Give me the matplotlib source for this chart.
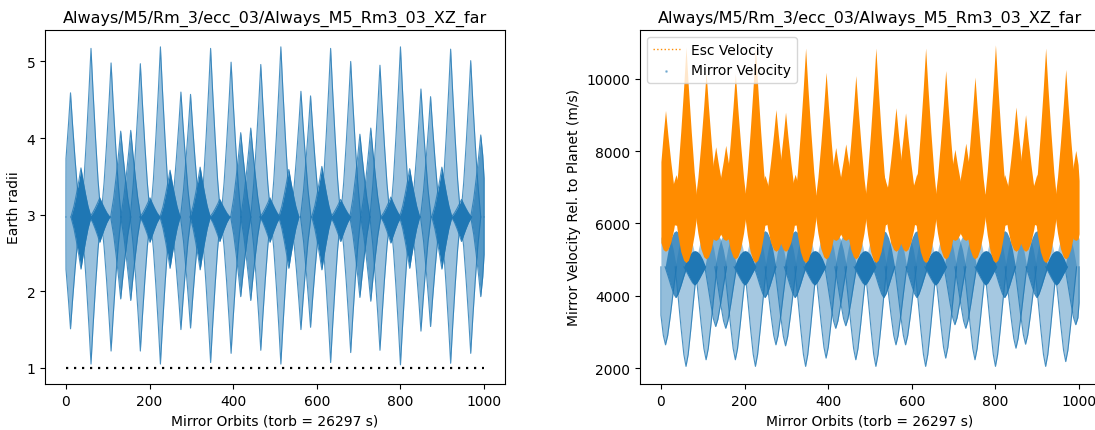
import numpy as np
import matplotlib
matplotlib.use("Agg")
import matplotlib.pyplot as plt

title = "Always/M5/Rm_3/ecc_03/Always_M5_Rm3_03_XZ_far"

# envelope lobes: orbit number of each lobe centre
lobe_x = [11, 36, 60, 81, 108, 131, 155, 178, 201, 226, 249, 275, 298, 321,
          346, 368, 395, 418, 442, 466, 488, 514, 533, 562, 585, 612, 633, 657,
          681, 703, 729, 751, 777, 800, 822, 849, 872, 899, 920, 946, 968, 992]

# left panel: radius envelope (Earth radii)
r_top = [4.59, 3.61, 5.17, 3.22, 4.98, 4.09, 4.10, 4.97, 3.22, 5.19, 3.58, 4.60,
         4.57, 3.62, 5.17, 3.20, 4.99, 4.07, 4.13, 4.96, 3.22, 5.19, 3.59, 4.61,
         4.55, 3.63, 5.17, 3.20, 5.00, 4.05, 4.13, 4.95, 3.23, 5.19, 3.60, 4.64,
         4.54, 3.62, 5.16, 3.20, 5.01, 4.04]
r_bot = [1.51, 2.29, 1.05, 2.64, 1.22, 1.90, 1.88, 1.22, 2.64, 1.05, 2.30, 1.50,
         1.52, 2.28, 1.07, 2.65, 1.19, 1.93, 1.88, 1.23, 2.64, 1.05, 2.30, 1.50,
         1.53, 2.28, 1.07, 2.65, 1.20, 1.92, 1.87, 1.23, 2.63, 1.04, 2.30, 1.48,
         1.54, 2.29, 1.06, 2.65, 1.19, 1.93]
r_mid = 2.97
earth_x = [0, 1000]
earth_r = [1, 1]

# right panel: escape velocity envelope (m/s)
esc_top = [9126, 7350, 10880, 6850, 10180, 8120, 8160, 10140, 6850, 10880, 7330,
           9150, 9080, 7360, 10850, 6840, 10180, 8100, 8200, 10090, 6850, 10850,
           7340, 9200, 9060, 7380, 10850, 6840, 10230, 8050, 8220, 10050, 6860,
           10940, 7350, 9220, 9010, 7360, 10850, 6840, 10260, 8020]
esc_bot = [5230, 5950, 4920, 6250, 5020, 5530, 5530, 5020, 6250, 4920, 5950,
           5230, 5230, 5950, 4920, 6250, 5020, 5530, 5530, 5020, 6250, 4920,
           5950, 5230, 5230, 5950, 4920, 6250, 5020, 5530, 5530, 5020, 6250,
           4920, 5950, 5230, 5230, 5950, 4920, 6250, 5020, 5530]
esc_mid = 6450

# mirror velocity envelope (m/s), upper part hidden under the orange band
vel_top = [5800, 5800, 5800, 5250, 5800, 5750, 5750, 5800, 5250, 5800, 5800,
           5800, 5800, 5800, 5800, 5250, 5800, 5750, 5750, 5800, 5250, 5800,
           5800, 5800, 5800, 5800, 5800, 5250, 5800, 5750, 5750, 5800, 5250,
           5800, 5800, 5800, 5800, 5800, 5800, 5250, 5800, 5750]
vel_bot = [2643, 3950, 2047, 4300, 2230, 3150, 3100, 2230, 4300, 2047, 3950,
           2643, 2615, 3950, 2047, 4300, 2276, 3100, 3170, 2230, 4300, 2047,
           3950, 2643, 2643, 3950, 2047, 4300, 2276, 3200, 3100, 2230, 4300,
           2047, 3950, 2550, 2660, 3950, 2047, 4300, 2180, 3200]
vel_mid = 4800

# lobe outlines (relative offset from centre -> relative height)
prof_u = np.array([-1, -0.7, -0.45, -0.2, 0, 0.2, 0.45, 0.7, 1])
sharp = np.array([0, 0.22, 0.47, 0.75, 1, 0.75, 0.47, 0.22, 0])
soft = np.array([0, 0.33, 0.62, 0.88, 1, 0.88, 0.62, 0.33, 0])
round_ = np.array([0, 0.5, 0.8, 0.96, 1, 0.96, 0.8, 0.5, 0])

blue = "#1f77b4"
orange = "#ff8c00"


def draw_lobes(ax, tops, bots, mid, color, half_w, up_prof, lo_prof,
               scale=None, amin=1.0, edges=()):
    for xc, top, bot in zip(lobe_x, tops, bots):
        xs = np.clip(xc + prof_u * half_w, 0, 1000)
        up = mid + up_prof * (top - mid)
        lo = mid - lo_prof * (mid - bot)
        alpha = 1.0
        if scale:
            alpha = float(np.clip(scale / (top - bot), amin, 1.0))
        ax.fill_between(xs, lo, up, color=color, alpha=alpha, lw=0)
        if "up" in edges:
            ax.plot(xs, up, color=color, lw=0.8, alpha=0.8)
        if "lo" in edges:
            ax.plot(xs, lo, color=color, lw=0.8, alpha=0.8)


fig = plt.figure(figsize=(10.95, 4.31), dpi=100)
ax1 = fig.add_axes([45 / 1095, 46 / 431, 460 / 1095, 354 / 431])
ax2 = fig.add_axes([640 / 1095, 46 / 431, 460 / 1095, 354 / 431])

draw_lobes(ax1, r_top, r_bot, r_mid, blue, 24, sharp, sharp,
           scale=1.6, amin=0.45, edges=("up", "lo"))
ax1.plot(earth_x, earth_r, color="k", linestyle=(0, (1, 2.6)), lw=1.6)
ax1.set_xlim(-50, 1050)
ax1.set_ylim(0.79, 5.41)
ax1.set_yticks([1, 2, 3, 4, 5])
ax1.set_title(title, fontsize=11.5)
ax1.set_xlabel("Mirror Orbits (torb = 26297 s)")
ax1.set_ylabel("Earth radii")

ax2.plot([], [], color=orange, linestyle=":", lw=1, label="Esc Velocity")
ax2.scatter([], [], s=1, color=blue, alpha=0.4, label="Mirror Velocity")
draw_lobes(ax2, vel_top, vel_bot, vel_mid, blue, 26, round_, soft,
           scale=1500, amin=0.4, edges=("lo",))
draw_lobes(ax2, esc_top, esc_bot, esc_mid, orange, 28, sharp, round_)
ax2.set_xlim(-50, 1050)
ax2.set_ylim(1560, 11350)
ax2.set_title(title, fontsize=11.5)
ax2.set_xlabel("Mirror Orbits (torb = 26297 s)")
ax2.set_ylabel("Mirror Velocity Rel. to Planet (m/s)")
ax2.legend(loc="upper left", fontsize=10)

fig.savefig("out.png", dpi=100)
